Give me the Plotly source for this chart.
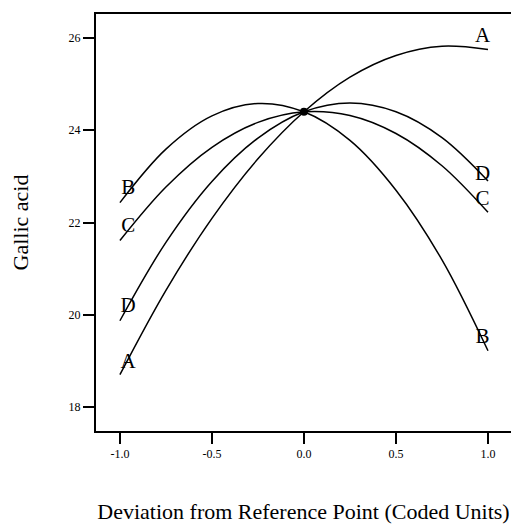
import plotly.graph_objects as go

x_vals = [-1.0, -0.75, -0.5, -0.25, 0.0, 0.25, 0.5, 0.75, 1.0]
series_A = [18.70, 20.53, 22.09, 23.38, 24.40, 25.15, 25.62, 25.82, 25.75]
series_B = [22.43, 23.59, 24.31, 24.58, 24.40, 23.78, 22.70, 21.19, 19.22]
series_C = [21.61, 22.77, 23.63, 24.17, 24.40, 24.32, 23.93, 23.23, 22.22]
series_D = [19.87, 21.57, 22.89, 23.83, 24.40, 24.59, 24.40, 23.84, 22.90]

ref_x = [0.0]
ref_y = [24.40]

left_labels = ["B", "C", "D", "A"]
left_label_y = [22.74, 21.90, 20.17, 18.95]
right_labels = ["A", "D", "C", "B"]
right_label_y = [26.02, 23.04, 22.50, 19.50]

y_ticks = [18, 20, 22, 24, 26]
x_ticks = [-1.0, -0.5, 0.0, 0.5, 1.0]
x_tick_text = ["-1.0", "-0.5", "0.0", "0.5", "1.0"]

FONT = "Liberation Serif, Times New Roman, serif"

fig = go.Figure()
for ys in [series_A, series_B, series_C, series_D]:
    fig.add_trace(go.Scatter(x=x_vals, y=ys, mode="lines",
                             line=dict(color="black", width=1.5, shape="spline", smoothing=1.0),
                             showlegend=False, hoverinfo="skip"))

fig.add_trace(go.Scatter(x=ref_x, y=ref_y, mode="markers",
                         marker=dict(color="black", size=8), showlegend=False))

fig.add_trace(go.Scatter(x=[-0.955] * len(left_labels), y=left_label_y, mode="text",
                         text=left_labels, textfont=dict(family=FONT, size=21, color="black"),
                         showlegend=False))
fig.add_trace(go.Scatter(x=[0.97] * len(right_labels), y=right_label_y, mode="text",
                         text=right_labels, textfont=dict(family=FONT, size=21, color="black"),
                         showlegend=False))

fig.update_layout(
    width=511, height=527,
    margin=dict(l=96, r=0, t=14, b=96),
    paper_bgcolor="white", plot_bgcolor="white",
    font=dict(family=FONT, color="black"),
    xaxis=dict(range=[-1.13, 1.125], tickvals=x_ticks, ticktext=x_tick_text,
               ticks="outside", ticklen=11, tickwidth=2, tickcolor="black",
               showline=True, linecolor="black", linewidth=2, mirror=True,
               showgrid=False, zeroline=False,
               tickfont=dict(family=FONT, size=12),
               title=dict(text="Deviation from Reference Point (Coded Units)",
                          font=dict(family=FONT, size=22), standoff=43)),
    yaxis=dict(range=[17.48, 26.52], tickvals=y_ticks,
               ticks="outside", ticklen=11, tickwidth=2, tickcolor="black",
               showline=True, linecolor="black", linewidth=2, mirror=False,
               showgrid=False, zeroline=False,
               tickfont=dict(family=FONT, size=12),
               title=dict(text="Gallic acid", font=dict(family=FONT, size=22), standoff=34)),
)

fig.write_html("out.html")
